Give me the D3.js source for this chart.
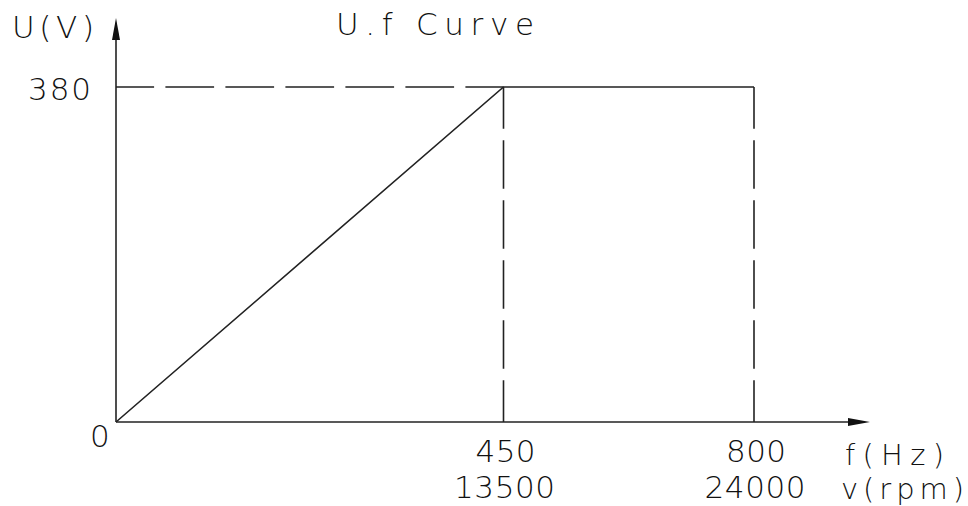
<!DOCTYPE html>
<html>
<head>
<meta charset="utf-8">
<script src="https://cdn.jsdelivr.net/npm/d3@7"></script>
<style>
  body { margin: 0; background: #fff; }
  svg text { font-family: "DejaVu Sans", sans-serif; font-weight: 200; fill: #111; }
</style>
</head>
<body>
<div id="container"></div>
<script>
// curve data
var freqHz = [0, 450, 800];
var voltage = [0, 380, 380];
var rpmLabels = ["", "13500", "24000"];
var voltTicks = [0, 380];
var title = "U.f Curve";

var width = 968;
var height = 506;
var x0 = 116, y0 = 422;
var dash = 48.7, gap = 11.3;

// schematic (non-proportional) horizontal layout of the break points
var x = d3.scaleLinear().domain(freqHz).range([x0, 503.5, 754]);
var y = d3.scaleLinear().domain([0, 380]).range([y0, 87]);

// cad-style dashed line: partial dashes at both ends, symmetric
function cadDash(sel, L){
    var period = dash + gap;
    var n = Math.floor((L - gap - dash) / period);
    var a = (L - gap - n * period) / 2;
    sel.attr('stroke-dasharray', dash + ' ' + gap)
       .attr('stroke-dashoffset', dash - a);
}

// text in the wide cad lettering: stretch to the measured run length
function label(txt, px, py, len, anchor, fs){
    var t = svg.append('text').attr('x', px).attr('y', py)
        .attr('text-anchor', anchor || 'start')
        .attr('font-size', fs || 30).text(txt);
    if(len){ t.attr('textLength', len).attr('lengthAdjust', 'spacing'); }
    return t;
}

var svg = d3.select('#container').append('svg')
    .attr('width', width).attr('height', height);

var g = svg.append('g')
    .attr('stroke', '#222')
    .attr('stroke-width', 1.6)
    .attr('fill', 'none');

// axes
g.append('line').attr('x1', x0).attr('y1', y0).attr('x2', 850).attr('y2', y0);
g.append('line').attr('x1', x0).attr('y1', y0).attr('x2', x0).attr('y2', 38);
svg.append('path').attr('d', 'M870,' + y0 + 'L848,' + (y0 - 4) + 'L848,' + (y0 + 4) + 'Z').attr('fill', '#111');
svg.append('path').attr('d', 'M' + x0 + ',18L' + (x0 - 4) + ',40L' + (x0 + 4) + ',40Z').attr('fill', '#111');

// dashed guides
var yTop = y(voltage[1]);
cadDash(g.append('line')
    .attr('x1', x0).attr('y1', yTop).attr('x2', x(freqHz[1])).attr('y2', yTop),
    x(freqHz[1]) - x0);
freqHz.slice(1).forEach(function(f, i){
    cadDash(g.append('line')
        .attr('x1', x(f)).attr('y1', y(voltage[i + 1])).attr('x2', x(f)).attr('y2', y0),
        y0 - y(voltage[i + 1]));
});

// the curve itself
var line = d3.line().x(function(d){ return x(d[0]); }).y(function(d){ return y(d[1]); });
g.append('path').datum(d3.zip(freqHz, voltage)).attr('d', line);

// labels
label(title, 336, 35, 198, 'start', 31);
label('U(V)', 12, 38, 82, 'start', 31);
label(voltTicks[1], 28, y(380) + 13, 63, 'start', 31);
label(voltTicks[0], 90, y0 + 25, null, 'start', 31);

freqHz.slice(1).forEach(function(f, i){
    label(f, x(f) + 2, y0 + 40, 60, 'middle', 31);
    label(rpmLabels[i + 1], x(f) + 1, y0 + 76, 101, 'middle', 31);
});
label('f(Hz)', 845, y0 + 43, 99, 'start', 29);
label('v(rpm)', 841, y0 + 77, 123, 'start', 29);
</script>
</body>
</html>
